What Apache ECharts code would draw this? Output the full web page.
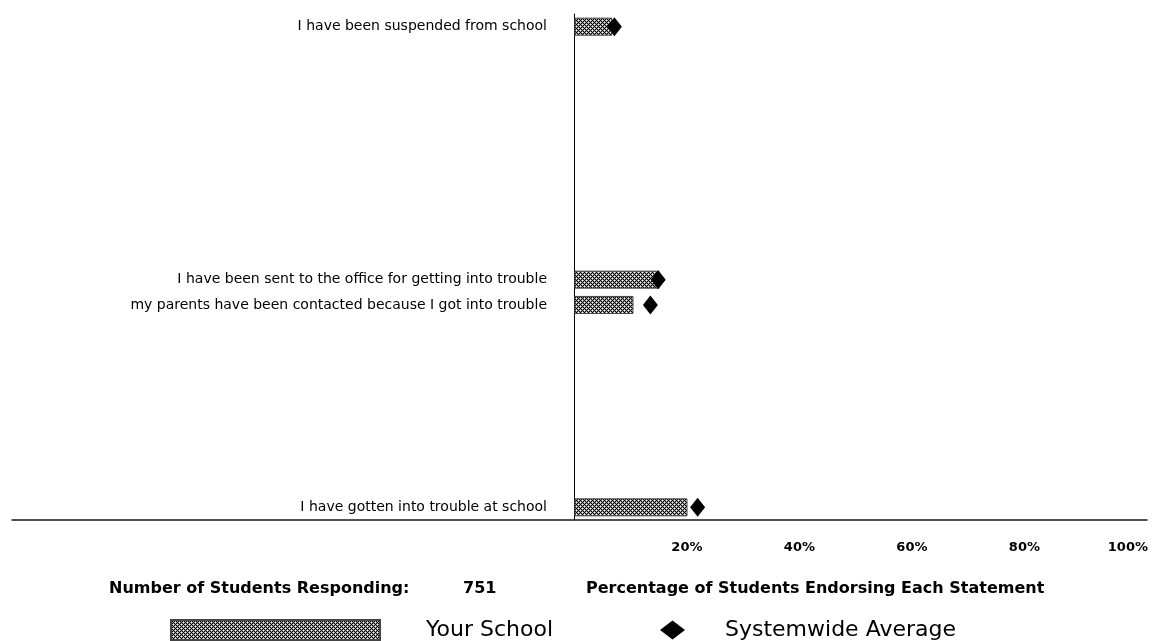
<!DOCTYPE html>
<html>
<head>
<meta charset="UTF-8">
<title>Discipline</title>
<script src="https://cdn.jsdelivr.net/npm/echarts@6/dist/echarts.min.js"></script>
<style>
  html, body { margin: 0; padding: 0; background: #fff; }
</style>
</head>
<body>
<div id="main" style="width: 1154px; height: 641px;"></div>
<script type="text/javascript">
// statements and where they sit in the (20-row) category axis
var statements = [
    'I have been suspended from school',
    'I have been sent to the office for getting into trouble',
    'my parents have been contacted because I got into trouble',
    'I have gotten into trouble at school'
];
var rowSlots = [0, 10, 11, 19];
var rowCount = 20;

// percent of students endorsing each statement
var schoolPct = [6.7, 15.1, 10.5, 20.1];
var systemPct = [7.1, 14.9, 13.5, 21.9];

var xTickLabels = ['20%', '40%', '60%', '80%', '100%'];
var respondents = 751;

var FONT = 'DejaVu Sans';

// cross-hatch tile for the bars
function hatchTile() {
    var c = document.createElement('canvas');
    c.width = 4; c.height = 4;
    var ctx = c.getContext('2d');
    for (var y = 0; y < 4; y++) {
        for (var x = 0; x < 4; x++) {
            if ((x + y) % 4 == 0 || (x - y + 4) % 4 == 0) {
                ctx.fillStyle = '#000';
            } else if ((x == 2 && y == 0) || (x == 0 && y == 2)) {
                ctx.fillStyle = '#fff';
            } else {
                ctx.fillStyle = '#999';
            }
            ctx.fillRect(x, y, 1, 1);
        }
    }
    return c;
}

var categories = [];
var barData = [];
for (var i = 0; i < rowCount; i++) {
    categories.push(' '.repeat(i));
    barData.push('-');
}
var diamondData = [];
for (var k = 0; k < rowSlots.length; k++) {
    categories[rowSlots[k]] = statements[k];
    barData[rowSlots[k]] = schoolPct[k];
    diamondData.push([systemPct[k], rowSlots[k]]);
}

var myChart = echarts.init(document.getElementById('main'));

var option = {
    animation: false,
    textStyle: { fontFamily: FONT },
    grid: {
        left: 12,
        right: 7,
        top: 14,
        bottom: 121,
        containLabel: false,
        outerBoundsMode: 'none'
    },
    xAxis: {
        type: 'value',
        min: -100,
        max: 101.8,
        interval: 20,
        axisLine: { show: true, lineStyle: { color: '#1a1a1a', width: 1.5 } },
        axisTick: { show: false },
        splitLine: { show: false },
        axisLabel: {
            margin: 21,
            color: '#000',
            fontFamily: FONT,
            fontWeight: 'bold',
            fontSize: 13,
            rich: {
                last: { fontFamily: FONT, fontWeight: 'bold', fontSize: 13, color: '#000', padding: [0, 18, 0, 0] }
            },
            formatter: function (v) {
                var idx = Math.round(v / 20) - 1;
                if (v > 0 && Math.abs(v - (idx + 1) * 20) < 1e-6 && idx < xTickLabels.length) {
                    return idx == xTickLabels.length - 1 ? '{last|' + xTickLabels[idx] + '}' : xTickLabels[idx];
                }
                return '';
            }
        }
    },
    yAxis: {
        type: 'category',
        inverse: true,
        data: categories,
        axisLine: { show: true, onZero: true, lineStyle: { color: '#000', width: 1 } },
        axisTick: { show: false },
        axisLabel: {
            // labels stay at the grid edge, so pull them in to sit beside the zero line
            margin: -535,
            color: '#000',
            fontFamily: FONT,
            fontSize: 14,
            interval: 0
        }
    },
    title: [{
        text: 'Number of Students Responding:',
        left: 109, top: 581, padding: 0,
        textStyle: { fontFamily: FONT, fontSize: 16, fontWeight: 'bold', color: '#000' }
    }, {
        text: String(respondents),
        left: 463, top: 581, padding: 0,
        textStyle: { fontFamily: FONT, fontSize: 16, fontWeight: 'bold', color: '#000' }
    }, {
        text: 'Percentage of Students Endorsing Each Statement',
        left: 586, top: 581, padding: 0,
        textStyle: { fontFamily: FONT, fontSize: 16, fontWeight: 'bold', color: '#000' }
    }],
    legend: [{
        data: ['Your School'],
        left: 170, top: 619, padding: 0,
        icon: 'rect',
        itemWidth: 209, itemHeight: 20,
        textStyle: { fontFamily: FONT, fontSize: 22, color: '#000', padding: [0, 0, 0, 41] }
    }, {
        data: ['Systemwide Average'],
        left: 660, top: 619, padding: 0,
        icon: 'diamond',
        symbolKeepAspect: false,
        itemWidth: 25, itemHeight: 19,
        itemStyle: { opacity: 1 },
        textStyle: { fontFamily: FONT, fontSize: 22, color: '#000', padding: [0, 0, 0, 35] }
    }],
    series: [{
        name: 'Your School',
        type: 'bar',
        data: barData,
        barWidth: 18,
        itemStyle: {
            color: { image: hatchTile(), repeat: 'repeat' },
            borderColor: '#444',
            borderWidth: 1
        }
    }, {
        name: 'Systemwide Average',
        type: 'scatter',
        data: diamondData,
        symbol: 'diamond',
        symbolSize: [15, 19],
        itemStyle: { color: '#000', opacity: 1 },
        z: 5
    }]
};
myChart.setOption(option);
</script>
</body>
</html>
